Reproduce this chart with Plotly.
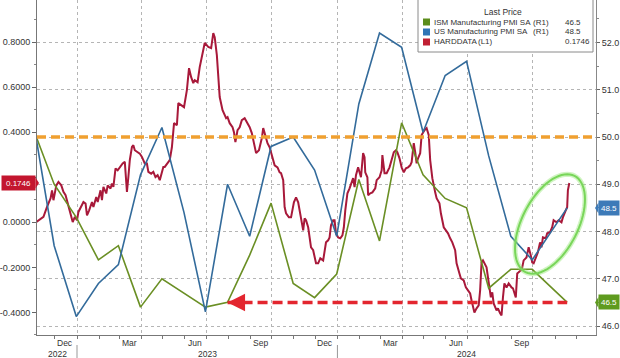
import math
import pandas as pd
import plotly.graph_objects as go

# ---------------- data ----------------
pmi_dates = ['2022-10-31', '2022-11-30', '2022-12-31', '2023-01-31', '2023-02-28', '2023-03-31',
             '2023-04-30', '2023-05-31', '2023-06-30', '2023-07-31', '2023-08-31', '2023-09-30',
             '2023-10-31', '2023-11-30', '2023-12-31', '2024-01-31', '2024-02-29', '2024-03-31',
             '2024-04-30', '2024-05-31', '2024-06-30', '2024-07-31', '2024-08-31', '2024-09-30',
             '2024-11-18']
ism_values = [50.2, 49.0, 48.3, 47.4, 47.7, 46.4, 47.0, 46.7, 46.4, 46.5, 47.5, 48.6,
              46.9, 46.6, 47.1, 49.1, 47.8, 50.3, 49.2, 48.7, 48.5, 46.8, 47.2, 47.2, 46.5]
us_pmi_values = [50.4, 47.7, 46.2, 46.9, 47.3, 49.2, 50.2, 48.4, 46.3, 49.0, 47.9, 49.8,
                 50.0, 49.3, 47.9, 50.7, 52.2, 51.9, 50.1, 51.3, 51.6, 49.6, 47.9, 47.4, 48.5]

# HARDDATA: observation day (days since 2023-01-01) and value
hard_days = [-57, -47, -42, -37, -35, -33, -29, -26, -22, -19, -16, -13, -9, -6, -3, 0, 2, 6, 9, 12,
             14, 17, 21, 23, 27, 29, 33, 35, 37, 41, 43, 47, 49, 51, 54, 57, 60, 64, 67, 70,
             72, 74, 77, 79, 81, 85, 88, 91, 95, 98, 100, 104, 107, 110, 113, 116, 119, 121, 123, 127,
             130, 133, 136, 140, 142, 146, 150, 154, 157, 160, 163, 165, 169, 172, 176, 179, 184, 188, 191, 193,
             196, 198, 200, 204, 206, 209, 211, 214, 218, 220, 222, 225, 228, 231, 235, 238, 242, 245, 249, 251,
             255, 257, 259, 261, 264, 267, 270, 272, 275, 277, 281, 284, 286, 289, 291, 293, 297, 300, 304, 307,
             310, 313, 317, 319, 321, 324, 326, 328, 331, 333, 335, 338, 341, 345, 347, 349, 352, 354, 356, 359,
             361, 363, 366, 369, 372, 374, 376, 379, 382, 384, 387, 389, 391, 394, 396, 398, 401, 403, 404, 407,
             408, 411, 414, 418, 420, 424, 427, 428, 431, 434, 438, 441, 444, 447, 449, 452, 455, 458, 461, 464,
             467, 469, 472, 474, 476, 478, 481, 483, 487, 490, 493, 495, 498, 502, 504, 508, 510, 514, 517, 520,
             523, 526, 530, 532, 536, 538, 542, 545, 548, 551, 553, 556, 557, 560, 563, 565, 567, 569, 571, 574,
             576, 578, 580, 582, 584, 588, 590, 593, 595, 597, 599, 602, 605, 609, 611, 615, 617, 619, 622, 624,
             626, 630, 633, 636, 638, 640, 643, 646, 649, 651, 653, 657, 659, 663, 666, 668, 672, 675, 679, 681,
             685, 687, 688, 690]
hard_values = [0.001, 0.024, 0.068, 0.107, 0.142, 0.098, 0.164, 0.179, 0.164, 0.135, 0.120, 0.083, 0.046, 0.001, 0.024, 0.009, 0.046, 0.068, 0.090, 0.083,
               0.031, 0.053, 0.090, 0.068, 0.112, 0.090, 0.142, 0.098, 0.157, 0.128, 0.164, 0.150, 0.172, 0.157, 0.239, 0.231, 0.246, 0.261, 0.268, 0.135,
               0.201, 0.276, 0.335, 0.342, 0.320, 0.312, 0.305, 0.290, 0.261, 0.261, 0.224, 0.216, 0.224, 0.201, 0.209, 0.187, 0.224, 0.246, 0.246, 0.261,
               0.276, 0.333, 0.440, 0.431, 0.529, 0.520, 0.511, 0.587, 0.684, 0.644, 0.618, 0.631, 0.622, 0.689, 0.751, 0.796, 0.778, 0.773, 0.840, 0.822,
               0.742, 0.631, 0.556, 0.498, 0.484, 0.462, 0.467, 0.440, 0.422, 0.400, 0.356, 0.409, 0.422, 0.453, 0.462, 0.444, 0.422, 0.396, 0.342, 0.307,
               0.320, 0.342, 0.373, 0.418, 0.387, 0.351, 0.333, 0.311, 0.284, 0.253, 0.244, 0.222, 0.218, 0.187, 0.067, 0.040, 0.022, 0.022, 0.089, 0.111,
               0.089, 0.040, -0.036, 0.018, 0.009, -0.022, -0.080, -0.111, -0.124, -0.147, -0.182, -0.182, -0.160, -0.169, -0.124, -0.089, -0.080, -0.067, -0.013, 0.009,
               0.009, -0.049, -0.067, -0.071, -0.058, -0.022, 0.053, 0.129, 0.151, 0.173, 0.196, 0.156, 0.209, 0.244, 0.222, 0.200, 0.307, 0.289, 0.222, 0.200,
               0.120, 0.129, 0.133, 0.151, 0.187, 0.200, 0.231, 0.298, 0.218, 0.218, 0.244, 0.276, 0.311, 0.320, 0.311, 0.284, 0.244, 0.222, 0.240, 0.244,
               0.253, 0.267, 0.351, 0.311, 0.262, 0.284, 0.307, 0.387, 0.409, 0.418, 0.387, 0.276, 0.196, 0.133, 0.107, 0.084, 0.040, -0.022, -0.036, -0.049,
               -0.071, -0.089, -0.124, -0.182, -0.227, -0.249, -0.258, -0.289, -0.302, -0.316, -0.347, -0.391, -0.400, -0.382, -0.369, -0.302, -0.178, -0.169, -0.182, -0.200,
               -0.244, -0.289, -0.333, -0.311, -0.360, -0.391, -0.382, -0.404, -0.413, -0.333, -0.271, -0.289, -0.271, -0.289, -0.293, -0.333, -0.227, -0.222, -0.213, -0.200,
               -0.169, -0.156, -0.111, -0.147, -0.178, -0.182, -0.156, -0.133, -0.089, -0.111, -0.067, -0.071, -0.049, -0.044, -0.022, 0.009, 0.000, 0.009, 0.000, 0.022,
               0.053, 0.067, 0.142, 0.1746]

left_ticks = [-0.4, -0.2, 0.0, 0.2, 0.4, 0.6, 0.8]
month_label_dates = ['2022-12-15', '2023-03-15', '2023-06-15', '2023-09-15',
                     '2023-12-15', '2024-03-15', '2024-06-15', '2024-09-15']
month_labels = ['Dec', 'Mar', 'Jun', 'Sep', 'Dec', 'Mar', 'Jun', 'Sep']
year_labels = ['2022', '2023', '2024']
year_starts = ['2023-01-01', '2024-01-01']
quarter_starts = ['2023-01-01', '2023-04-01', '2023-07-01', '2023-10-01',
                  '2024-01-01', '2024-04-01', '2024-07-01', '2024-10-01']
threshold_level = 50.0
arrow_from_date = '2023-07-31'

legend_names = ['ISM Manufacturing PMI SA', 'US Manufacturing PMI SA', 'HARDDATA']
legend_axes = ['(R1)', '(R1)', '(L1)']

# ---------------- style ----------------
GREEN = '#6a8f24'
BLUE = '#336b9b'
RED = '#a8193a'
TAG_RED = '#c3162f'
TAG_BLUE = '#3d7ab8'
TAG_GREEN = '#5f9b1f'
ORANGE = '#f0a030'
ARROW_RED = '#e3262f'
TXT = '#333333'
FONT = 'Liberation Sans'

W, H = 620, 358
PL, PR, PT, PB = 37, 596, 0, 335
BASE = pd.Timestamp('2023-01-01')
x_range = [str(BASE + pd.Timedelta(days=-56.06)), str(BASE + pd.Timedelta(days=727.4))]
Y_RANGE = [-0.5002, 0.9867]
Y2_RANGE = [45.810, 52.899]


def px(x):
    return (x - PL) / (PR - PL)


def py(y):
    return (PB - y) / (PB - PT)


hard_dates = [BASE + pd.Timedelta(days=d) for d in hard_days]

fig = go.Figure()
fig.add_trace(go.Scatter(x=pmi_dates, y=ism_values, yaxis='y2', mode='lines',
                         line=dict(color=GREEN, width=1.6), name='ISM'))
fig.add_trace(go.Scatter(x=pmi_dates, y=us_pmi_values, yaxis='y2', mode='lines',
                         line=dict(color=BLUE, width=1.6), name='US'))
fig.add_trace(go.Scatter(x=hard_dates, y=hard_values, yaxis='y', mode='lines',
                         line=dict(color=RED, width=2.0), name='HARDDATA'))
# red dashed level of latest ISM reading
fig.add_trace(go.Scatter(x=[arrow_from_date, pmi_dates[-1]], y=[ism_values[-1], ism_values[-1]],
                         yaxis='y2', mode='lines',
                         line=dict(color=ARROW_RED, width=3.5, dash='10px,5px')))

shapes = []
# orange dashed 50 line
shapes.append(dict(type='line', xref='paper', x0=0, x1=1, yref='y2', y0=threshold_level,
                   y1=threshold_level, line=dict(color=ORANGE, width=3.5, dash='9px,5px'), layer='above'))
# year separators below axis
for ys in year_starts:
    shapes.append(dict(type='line', xref='x', x0=ys, x1=ys, yref='paper', y0=py(345), y1=py(358),
                       line=dict(color='#999999', width=1)))

# ellipse highlight
cx, cy, ea, eb, th = 550, 224, 54, 28, math.radians(63)
pts = []
for i in range(73):
    t = 2 * math.pi * i / 72
    xx = cx + ea * math.cos(t) * math.cos(th) - eb * math.sin(t) * math.sin(th)
    yy = cy - (ea * math.cos(t) * math.sin(th) + eb * math.sin(t) * math.cos(th))
    pts.append(f"{px(xx):.5f},{py(yy):.5f}")
path = 'M ' + ' L '.join(pts) + ' Z'
shapes.append(dict(type='path', xref='paper', yref='paper', path=path,
                   line=dict(color='rgba(150,230,120,0.45)', width=5)))
shapes.append(dict(type='path', xref='paper', yref='paper', path=path,
                   line=dict(color='#79d65a', width=2)))

# legend box
shapes.append(dict(type='rect', xref='paper', yref='paper', x0=px(418), x1=px(593), y0=py(52), y1=py(-2),
                   line=dict(color='#8a8a8a', width=1), fillcolor='white', layer='above'))
legend_colors = ['#5b8c1a', '#2f74b5', '#c01f33']
row_y = [22, 32, 42]
for col, ry in zip(legend_colors, row_y):
    shapes.append(dict(type='rect', xref='paper', yref='paper', x0=px(423), x1=px(430),
                       y0=py(ry + 3.5), y1=py(ry - 3.5), line=dict(width=0), fillcolor=col, layer='above'))

# tag pointers (small triangles toward the axes)
h2 = 5.5 * (Y2_RANGE[1] - Y2_RANGE[0]) / (PB - PT)
h1 = 5.5 * (Y_RANGE[1] - Y_RANGE[0]) / (PB - PT)
for val, col in [(us_pmi_values[-1], TAG_BLUE), (ism_values[-1], TAG_GREEN)]:
    shapes.append(dict(type='path', xref='paper', yref='y2',
                       path=f"M {px(598.5)},{val + h2} L {px(595)},{val} L {px(598.5)},{val - h2} Z",
                       fillcolor=col, line=dict(width=0), layer='above'))
hv = hard_values[-1]
shapes.append(dict(type='path', xref='paper', yref='y',
                   path=f"M {px(35.5)},{hv + h1} L {px(39)},{hv} L {px(35.5)},{hv - h1} Z",
                   fillcolor=TAG_RED, line=dict(width=0), layer='above'))

annotations = []
annotations.append(dict(xref='paper', yref='paper', x=px(503), y=py(12), text='Last Price',
                        showarrow=False, xanchor='center', yanchor='middle',
                        font=dict(family=FONT, size=8.5, color=TXT)))
legend_values = [f"{ism_values[-1]:.1f}", f"{us_pmi_values[-1]:.1f}", f"{hard_values[-1]:.4f}"]
tag_x = [531, 531, 476]
for name, ax_, val, ry, tx in zip(legend_names, legend_axes, legend_values, row_y, tag_x):
    annotations.append(dict(xref='paper', yref='paper', x=px(432), y=py(ry), text=name, showarrow=False,
                            xanchor='left', yanchor='middle', font=dict(family=FONT, size=8, color=TXT)))
    annotations.append(dict(xref='paper', yref='paper', x=px(tx), y=py(ry), text=ax_, showarrow=False,
                            xanchor='left', yanchor='middle', font=dict(family=FONT, size=8, color=TXT)))
    annotations.append(dict(xref='paper', yref='paper', x=px(563), y=py(ry), text=val, showarrow=False,
                            xanchor='left', yanchor='middle', font=dict(family=FONT, size=8, color=TXT)))

# value tags
annotations.append(dict(xref='paper', x=0, xanchor='right', xshift=-1, yref='y', y=hard_values[-1],
                        text=f"{hard_values[-1]:.4f}", showarrow=False, bgcolor=TAG_RED,
                        font=dict(family=FONT, size=8, color='white'), width=31, height=12, borderpad=1))
annotations.append(dict(xref='paper', x=1, xanchor='left', xshift=2, yref='y2', y=us_pmi_values[-1],
                        text=f"{us_pmi_values[-1]:.1f}", showarrow=False, bgcolor=TAG_BLUE,
                        font=dict(family=FONT, size=8, color='white'), width=18, height=12, borderpad=1))
annotations.append(dict(xref='paper', x=1, xanchor='left', xshift=2, yref='y2', y=ism_values[-1],
                        text=f"{ism_values[-1]:.1f}", showarrow=False, bgcolor=TAG_GREEN,
                        font=dict(family=FONT, size=8, color='white'), width=18, height=12, borderpad=1))

# arrow head
annotations.append(dict(x=arrow_from_date, y=ism_values[-1], xref='x', yref='y2', text='',
                        showarrow=True, ax=13, ay=0, arrowhead=2, arrowsize=1, arrowwidth=3.5,
                        arrowcolor=ARROW_RED, standoff=0))

# x-axis labels
for d, lab in zip(month_label_dates, month_labels):
    annotations.append(dict(xref='x', x=d, yref='paper', y=0, yanchor='top', yshift=-1, text=lab,
                            showarrow=False, font=dict(family=FONT, size=8.5, color=TXT)))
x0 = pd.Timestamp(x_range[0])
x1 = pd.Timestamp(x_range[1])
bounds = [x0] + [pd.Timestamp(s) for s in year_starts] + [x1]
for i, lab in enumerate(year_labels):
    mid = bounds[i] + (bounds[i + 1] - bounds[i]) / 2
    annotations.append(dict(xref='x', x=str(mid), yref='paper', y=0, yanchor='top', yshift=-12, text=lab,
                            showarrow=False, font=dict(family=FONT, size=8.5, color=TXT)))

month_starts = [str(d.date()) for d in pd.date_range('2022-12-01', '2024-12-01', freq='MS')]
# the 0.2000 label sits under the HARDDATA value tag, as in the reference
left_text = ['' if abs(v - 0.2) < 1e-9 else f"{v:.4f}" for v in left_ticks]

fig.update_layout(
    width=W, height=H, template='none',
    margin=dict(l=PL, r=W - PR, t=PT, b=H - PB, pad=0),
    paper_bgcolor='white', plot_bgcolor='white', showlegend=False,
    font=dict(family=FONT, size=9, color=TXT),
    xaxis=dict(type='date', range=x_range, tickmode='array', tickvals=quarter_starts,
               showticklabels=False, ticks='outside', ticklen=3, tickcolor='#777777',
               showgrid=True, gridcolor='#b5b5b5', griddash='dot', gridwidth=1,
               showline=True, linecolor='#777777', linewidth=1, zeroline=False, automargin=False,
               minor=dict(tickmode='array', tickvals=month_starts, ticks='outside', ticklen=3,
                          tickcolor='#777777', showgrid=False)),
    yaxis=dict(range=Y_RANGE, tickmode='array', tickvals=left_ticks,
               ticktext=left_text, ticks='outside', ticklen=4,
               tickcolor='#666666', showgrid=False, zeroline=False, showline=True,
               linecolor='#777777', linewidth=1, automargin=False,
               tickfont=dict(family=FONT, size=9, color=TXT),
               minor=dict(dtick=0.1, tick0=0, ticks='outside', ticklen=2, tickcolor='#888888', showgrid=False)),
    yaxis2=dict(range=Y2_RANGE, overlaying='y', side='right', tickmode='linear', tick0=46,
                dtick=1, tickformat='.1f', ticks='outside', ticklen=3, tickcolor='#666666',
                showgrid=True, gridcolor='#b5b5b5', griddash='dot', gridwidth=1, zeroline=False,
                showline=True, linecolor='#888888', linewidth=1, automargin=False,
                tickfont=dict(family=FONT, size=9, color=TXT),
                minor=dict(dtick=0.5, tick0=46, ticks='outside', ticklen=2, tickcolor='#888888', showgrid=False)),
    shapes=shapes,
    annotations=annotations,
)

fig.write_html('out.html', config={'displayModeBar': False},
               post_script="document.body.style.margin='0';document.body.style.overflow='hidden';")
